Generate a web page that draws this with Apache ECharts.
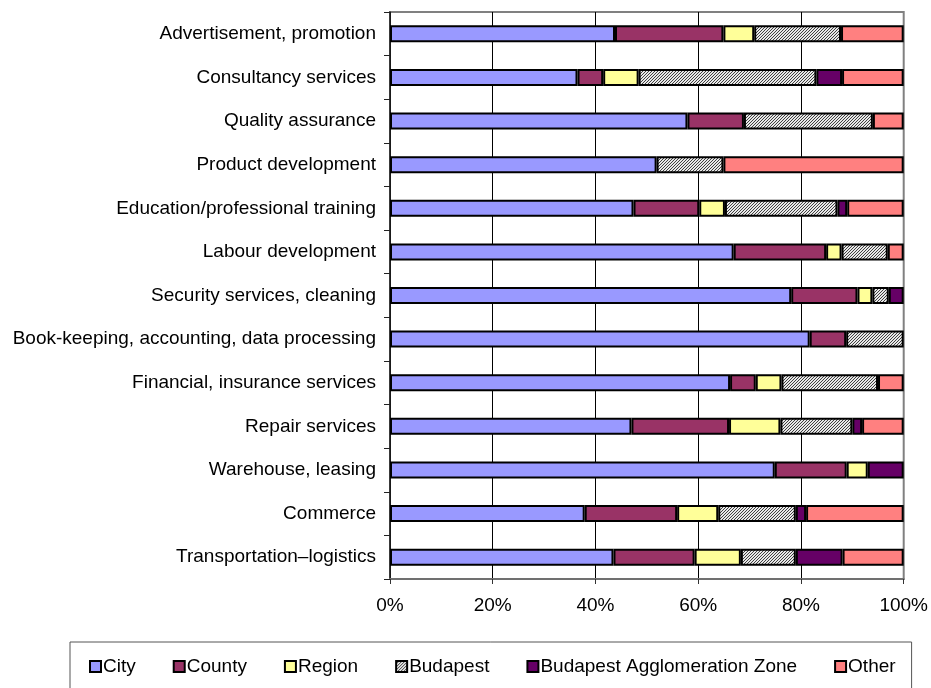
<!DOCTYPE html>
<html>
<head>
<meta charset="utf-8">
<script src="https://cdn.jsdelivr.net/npm/echarts@6/dist/echarts.min.js"></script>
<style>
html,body{margin:0;padding:0;background:#fff;}
#chart{width:931px;height:688px;}
</style>
</head>
<body>
<div id="chart"></div>
<script>
const categories = [
  'Advertisement, promotion',
  'Consultancy services',
  'Quality assurance',
  'Product development',
  'Education/professional training',
  'Labour development',
  'Security services, cleaning',
  'Book-keeping, accounting, data processing',
  'Financial, insurance services',
  'Repair services',
  'Warehouse, leasing',
  'Commerce',
  'Transportation\u2013logistics'
];
const seriesNames = ['City', 'County', 'Region', 'Budapest', 'Budapest Agglomeration Zone', 'Other'];
const city      = [43.8, 36.5, 57.9, 51.9, 47.4, 66.9, 78.1, 81.7, 66.2, 47.0, 74.9, 37.9, 43.5];
const county    = [21.1,  5.0, 11.0,  0,   12.8, 18.0, 12.9,  7.1,  5.0, 19.0, 14.0, 18.0, 15.8];
const region    = [ 6.0,  6.9,  0,    0,    5.0,  3.0,  2.9,  0,    5.0, 10.0,  4.1,  8.0,  9.0];
const budapest  = [16.9, 34.6, 25.1, 13.0, 21.9,  9.0,  3.2, 11.2, 18.8, 14.0,  0,   15.1, 10.7];
const agglom    = [ 0,    5.0,  0,    0,    1.9,  0,    2.9,  0,    0,    1.9,  7.0,  2.0,  9.1];
const other     = [12.2, 12.0,  6.0, 35.1, 11.0,  3.1,  0,    0,    5.0,  8.1,  0,   19.0, 11.9];
const xTicks = [0, 20, 40, 60, 80, 100];

// hatch pattern for Budapest
const pc = document.createElement('canvas');
pc.width = 3; pc.height = 3;
const pctx = pc.getContext('2d');
pctx.fillStyle = '#e8e8e8';
pctx.fillRect(0, 0, 3, 3);
pctx.fillStyle = '#404040';
for (let i = 0; i < 3; i++) { pctx.fillRect(2 - i, i, 1, 1); }
const hatch = { image: pc, repeat: 'repeat' };

const colors = ['#9999FF', '#993366', '#FFFF99', hatch, '#660066', '#FF8080'];
const values = [city, county, region, budapest, agglom, other];
const font = "'Liberation Sans', Arial, sans-serif";

const chart = echarts.init(document.getElementById('chart'), null, { renderer: 'canvas' });
chart.setOption({
  animation: false,
  backgroundColor: '#fff',
  grid: {
    left: 390, right: 26, top: 12, bottom: 109,
    show: true, borderColor: '#808080', borderWidth: 2, containLabel: false
  },
  legend: {
    left: 70, top: 642,
    padding: [15, 16, 15, 19],
    borderColor: '#555', borderWidth: 1,
    itemWidth: 11, itemHeight: 11, itemGap: 37,
    icon: 'rect',
    textStyle: { fontFamily: font, fontSize: 19, color: '#000', padding: [0, 0, 0, -3] },
    data: seriesNames
  },
  xAxis: {
    type: 'value', min: xTicks[0], max: xTicks[xTicks.length - 1], interval: 20,
    axisLine: { show: true, lineStyle: { color: '#707070', width: 2 } },
    axisTick: { show: true, length: 5, lineStyle: { color: '#333', width: 1 } },
    axisLabel: { formatter: '{value}%', fontFamily: font, fontSize: 19, color: '#000', margin: 17 },
    splitLine: { show: true, showMaxLine: false, lineStyle: { color: '#000', width: 1 } }
  },
  yAxis: {
    type: 'category', data: categories, inverse: true,
    axisLine: { show: true, lineStyle: { color: '#222', width: 1.5 } },
    axisTick: { show: true, length: 6, alignWithLabel: false, lineStyle: { color: '#222', width: 1 } },
    axisLabel: { fontFamily: font, fontSize: 19, color: '#000', margin: 14 }
  },
  series: seriesNames.map((name, i) => ({
    name: name,
    type: 'bar',
    stack: 'total',
    barWidth: 17,
    itemStyle: { color: colors[i], borderColor: '#000', borderWidth: 2 },
    data: values[i].map(v => (v === 0 ? '-' : v))
  }))
});
</script>
</body>
</html>
